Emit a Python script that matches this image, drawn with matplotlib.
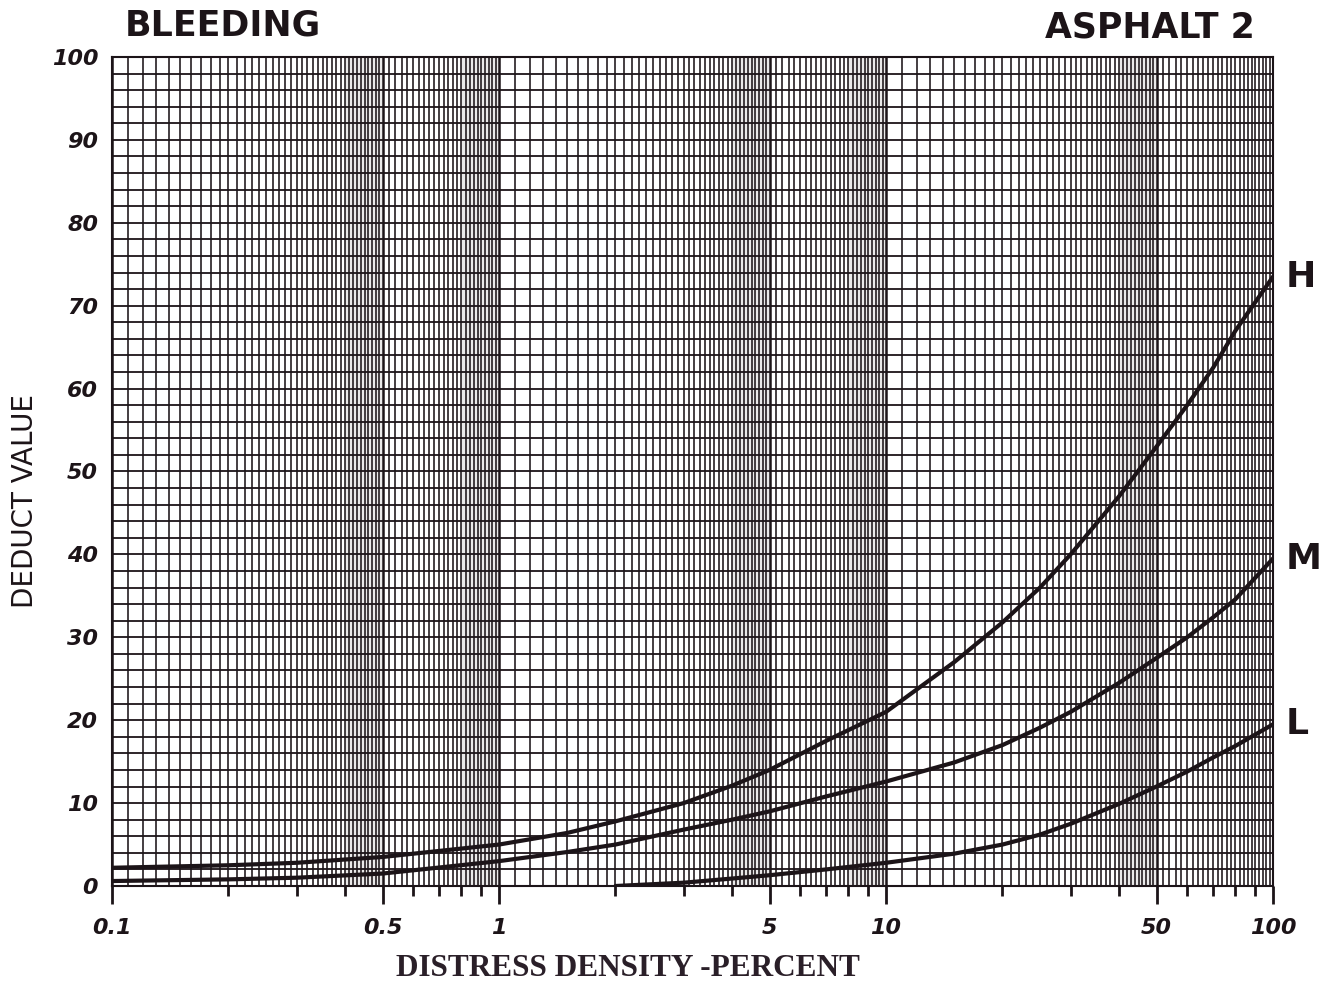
import numpy as np
import matplotlib
matplotlib.use('Agg')
import matplotlib.pyplot as plt
from matplotlib.ticker import FixedLocator, NullFormatter

# Du lieu doc tu bieu do (mat do hu hong % -> gia tri khau tru)
x_H = [0.1, 0.2, 0.3, 0.5, 1, 1.5, 2, 3, 4, 5, 7, 10, 15, 20, 25, 30, 40, 50, 60, 70, 80, 100]
y_H = [2.2, 2.5, 2.8, 3.5, 5.0, 6.4, 7.8, 10.0, 12.1, 14.0, 17.5, 21.0, 27.0, 31.8, 36.0, 40.0,
       47.0, 53.0, 58.0, 62.5, 67.0, 73.5]

x_M = [0.1, 0.2, 0.3, 0.5, 1, 1.5, 2, 3, 4, 5, 7, 10, 15, 20, 25, 30, 40, 50, 60, 70, 80, 100]
y_M = [0.6, 0.8, 1.0, 1.5, 3.0, 4.1, 5.0, 6.8, 8.0, 9.0, 10.8, 12.6, 14.9, 17.0, 19.1, 21.0,
       24.5, 27.5, 30.0, 32.4, 34.6, 39.5]

x_L = [2, 3, 4, 5, 7, 10, 15, 20, 25, 30, 40, 50, 60, 70, 80, 100]
y_L = [0.0, 0.4, 0.9, 1.3, 2.0, 2.8, 3.9, 5.0, 6.2, 7.5, 9.9, 12.0, 13.8, 15.5, 16.9, 19.5]

nhan_duong = ['H', 'M', 'L']
x_nhan = [0.1, 0.5, 1, 5, 10, 50, 100]
x_nhan_text = ['0.1', '0.5', '1', '5', '10', '50', '100']
y_nhan = [0, 10, 20, 30, 40, 50, 60, 70, 80, 90, 100]

mau = '#1c1418'

fig = plt.figure(figsize=(13.37, 9.83), dpi=100)
W, H = 1337, 983
ax = fig.add_axes([112 / W, 1 - 886 / H, (1273 - 112) / W, (886 - 57) / H])
ax.set_xscale('log')
ax.set_xlim(0.1, 100)
ax.set_ylim(0, 100)

# Vet toi do scan (cac dai mo)
for a, b in [(0.4, 0.5), (0.8, 1.0), (4, 5), (8, 10), (40, 50)]:
    ax.axvspan(a, b, color='#3a2a30', alpha=0.10, lw=0, zorder=0)

# Luoi giay log: 1-5 buoc 0.1, 5-10 buoc 0.2 trong moi decade
luoi_x = []
for d in [0.1, 1, 10]:
    luoi_x += list(np.arange(1, 5, 0.1) * d) + list(np.arange(5, 10, 0.2) * d)
luoi_x.append(100)
luoi_x = np.array(luoi_x)
dam = np.array([np.isclose(v, x_nhan).any() for v in luoi_x])
ax.vlines(luoi_x[~dam], 0, 100, color=mau, lw=1.15, zorder=1)
ax.vlines(luoi_x[dam], 0, 100, color=mau, lw=1.8, zorder=1)
ax.hlines(np.arange(0, 101, 2), 0.1, 100, color=mau, lw=1.3, zorder=1)

# Cac duong cong
for xs, ys in [(x_H, y_H), (x_M, y_M), (x_L, y_L)]:
    ax.plot(xs, ys, color=mau, lw=3.0, solid_capstyle='round', solid_joinstyle='round', zorder=3)

for nhan, ys in zip(nhan_duong, [y_H, y_M, y_L]):
    ax.annotate(nhan, xy=(100, ys[-1]), xytext=(9, 0), textcoords='offset points',
                ha='left', va='center', fontsize=26, fontweight='bold', color=mau,
                annotation_clip=False)

for s in ax.spines.values():
    s.set_color(mau)
    s.set_linewidth(1.5)

# Truc x
ax.xaxis.set_major_locator(FixedLocator(x_nhan))
ax.set_xticklabels(x_nhan_text)
phu = [v * d for d in [0.1, 1, 10] for v in range(2, 10) if v != 5]
ax.xaxis.set_minor_locator(FixedLocator(phu))
ax.xaxis.set_minor_formatter(NullFormatter())
ax.tick_params(axis='x', which='major', direction='out', length=13, width=2,
               color=mau, pad=10, labelsize=16, labelcolor=mau)
ax.tick_params(axis='x', which='minor', direction='out', length=7.5, width=2, color=mau)
for t in ax.get_xticklabels():
    t.set_fontweight('bold')
    t.set_fontstyle('italic')

# Truc y
ax.set_yticks(y_nhan)
ax.tick_params(axis='y', which='both', length=0, pad=10, labelsize=16, labelcolor=mau)
for t in ax.get_yticklabels():
    t.set_fontweight('bold')
    t.set_fontstyle('italic')

fig.text(25 / W, 1 - 501 / H, 'DEDUCT VALUE', rotation=90, ha='center', va='center',
         fontsize=20, color=mau)
fig.text(628 / W, 1 - 968 / H, 'DISTRESS DENSITY -PERCENT', ha='center', va='center',
         fontsize=22.5, fontweight='bold', family='Liberation Serif', color='#2a1f28')
fig.text(125 / W, 1 - 25 / H, 'BLEEDING', ha='left', va='center',
         fontsize=25, fontweight='bold', color=mau)
fig.text(1255 / W, 1 - 28 / H, 'ASPHALT 2', ha='right', va='center',
         fontsize=25, fontweight='bold', color=mau)

fig.savefig('out.png', dpi=100, facecolor='white')
